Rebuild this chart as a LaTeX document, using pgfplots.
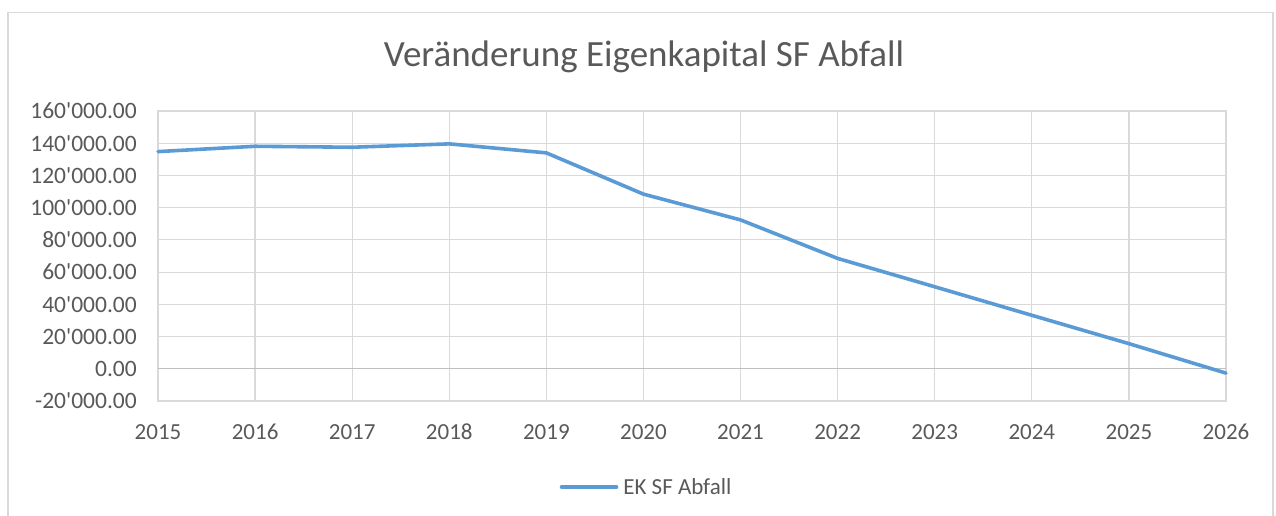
\documentclass[border=0pt]{standalone}
\usepackage{pgfplots}
\pgfplotsset{compat=1.18}
\usepackage{fontspec}
\setmainfont{Carlito}
\definecolor{linec}{HTML}{5B9BD5}
\definecolor{gridc}{HTML}{D9D9D9}
\definecolor{txt}{HTML}{595959}
\definecolor{zeroc}{HTML}{BFBFBF}
\begin{document}
\begin{tikzpicture}[x=1pt,y=1pt]
\path[use as bounding box] (0,0) rectangle (1276,516);
\draw[gridc, line width=1.2pt] (8,-5) |- (1273,503.5) -- (1273,-5);
\node[anchor=base, text=txt, font=\fontsize{37}{44}\selectfont, inner sep=0pt] at (644,449) {Veränderung Eigenkapital SF Abfall};
\begin{axis}[
  at={(158pt,115pt)}, anchor=south west,
  scale only axis, width=1068pt, height=290pt,
  xmin=2015, xmax=2026, ymin=-20000, ymax=160000,
  clip=false, scaled y ticks=false, scaled x ticks=false,
  xtick={2015,2016,2017,2018,2019,2020,2021,2022,2023,2024,2025,2026},
  xticklabels={2015,2016,2017,2018,2019,2020,2021,2022,2023,2024,2025,2026},
  ytick={-20000,0,20000,40000,60000,80000,100000,120000,140000,160000},
  yticklabels={-20\textquotesingle000.00,0.00,20\textquotesingle000.00,40\textquotesingle000.00,60\textquotesingle000.00,80\textquotesingle000.00,100\textquotesingle000.00,120\textquotesingle000.00,140\textquotesingle000.00,160\textquotesingle000.00},
  ticklabel style={font=\fontsize{23}{28}\selectfont, text=txt, inner sep=0pt},
  yticklabel style={anchor=east, xshift=-21pt, font=\fontsize{23.5}{28}\selectfont},
  xticklabel style={anchor=base, yshift=-39pt},
  major tick length=0pt,
  grid=major,
  grid style={gridc, line width=1.2pt},
  axis line style={gridc, line width=1.2pt},
  legend style={at={(0.4565,-0.2966)}, anchor=center, draw=none, fill=none,
    font=\fontsize{23}{28}\selectfont, text=txt, inner sep=0pt,
    nodes={inner sep=0pt}, /tikz/every odd column/.append style={column sep=5pt}},
  legend image code/.code={\draw[linec, line width=3.6pt, line cap=round] (0pt,0pt) -- (55pt,0pt);},
]
\draw[zeroc, line width=1.4pt] (axis cs:2015,0) -- (axis cs:2026,0);
\addplot[linec, line width=3.6pt, line join=round, line cap=round] coordinates {
 (2015,134800) (2016,138100) (2017,137500) (2018,139600) (2019,134000)
 (2020,108400) (2021,92400) (2022,68500) (2023,50900) (2024,33200)
 (2025,15600) (2026,-2700)
};
\addlegendentry{EK SF Abfall}
\end{axis}
\end{tikzpicture}
\end{document}
